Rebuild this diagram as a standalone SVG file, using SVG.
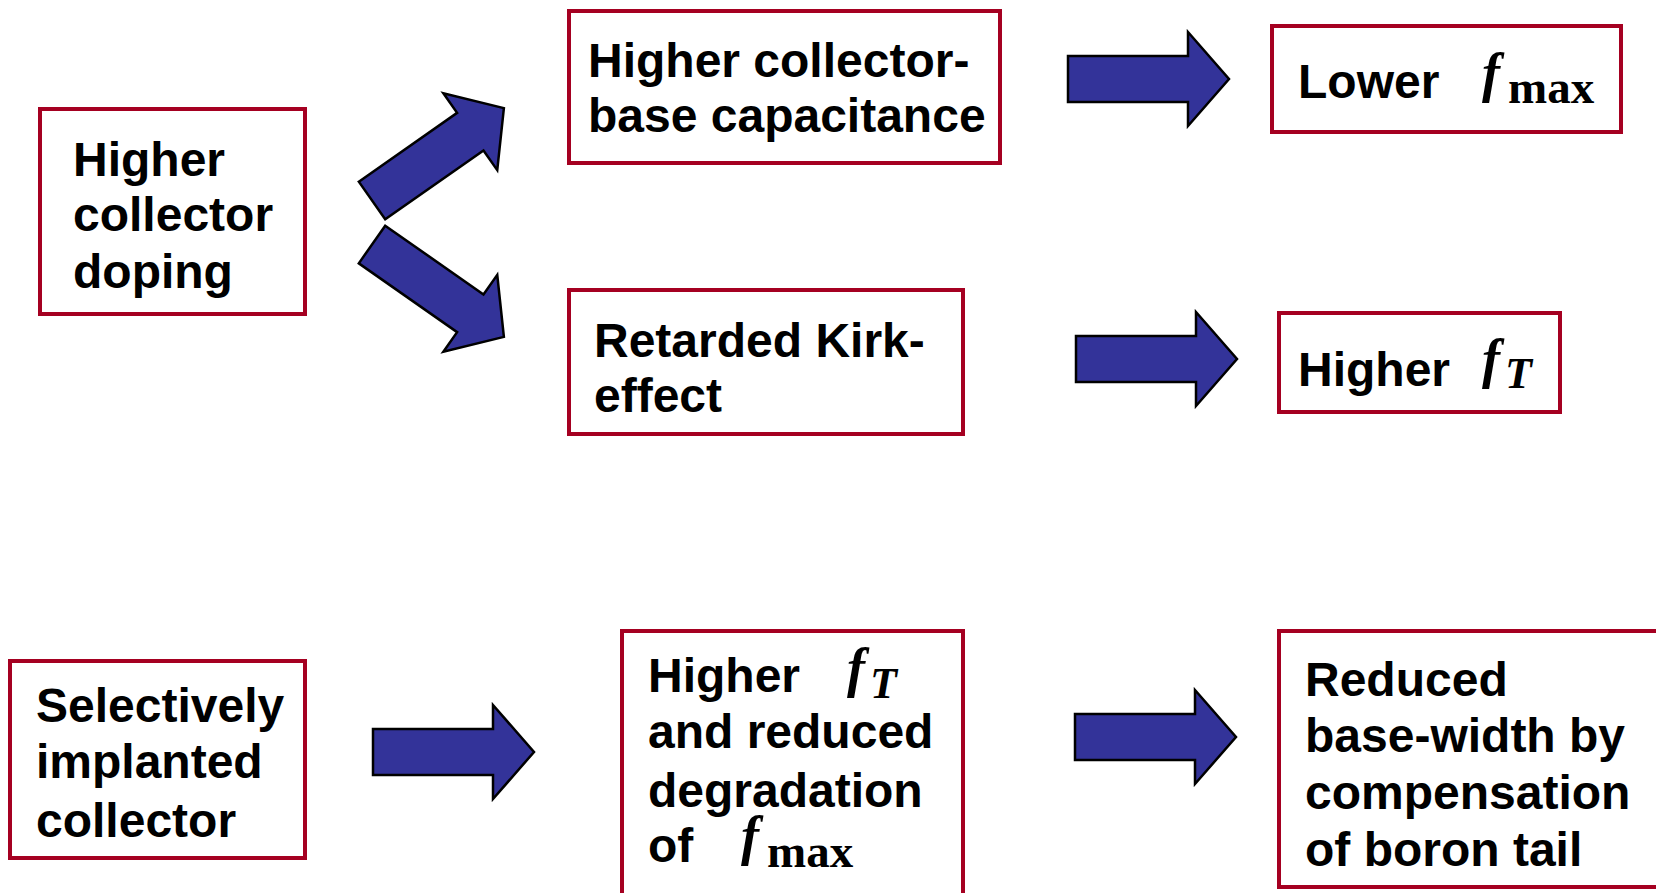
<svg xmlns="http://www.w3.org/2000/svg" xmlns:xlink="http://www.w3.org/1999/xlink" width="1656" height="893" viewBox="0 0 1656 893">
  <style>
    .box { fill: #ffffff; stroke: #A50021; stroke-width: 4; }
    .lbl { font-family: "Liberation Sans", Arial, sans-serif; font-weight: bold; font-size: 48px; fill: #000000; }
    .f { font-family: "Liberation Serif", "Times New Roman", serif; font-style: italic; font-weight: bold; font-size: 54px; fill: #000000; }
    .sub { font-family: "Liberation Serif", "Times New Roman", serif; font-weight: bold; font-size: 47px; fill: #000000; }
    .subi { font-family: "Liberation Serif", "Times New Roman", serif; font-style: italic; font-weight: bold; font-size: 44px; fill: #000000; }
    .arrow { fill: #333399; stroke: #000000; stroke-width: 2.5; stroke-linejoin: miter; }
  </style>
  <defs>
    <!-- block arrow, tail centred on the origin, pointing along +x -->
    <path id="blockArrow" d="M0,-23 H120 V-47 L161,0 L120,47 V23 H0 Z"/>
  </defs>
  <rect width="1656" height="893" fill="#ffffff"/>

  <g id="connectors">
    <use xlink:href="#blockArrow" class="arrow" transform="translate(372,200.5) rotate(-35)"/>
    <use xlink:href="#blockArrow" class="arrow" transform="translate(372,244.5) rotate(35)"/>
    <use xlink:href="#blockArrow" class="arrow" transform="translate(1068,79)"/>
    <use xlink:href="#blockArrow" class="arrow" transform="translate(1076,359)"/>
    <use xlink:href="#blockArrow" class="arrow" transform="translate(373,752)"/>
    <use xlink:href="#blockArrow" class="arrow" transform="translate(1075,737)"/>
  </g>

  <g id="collector-doping">
    <rect class="box" x="40" y="109" width="265" height="205"/>
    <text class="lbl" x="73" y="176">Higher</text>
    <text class="lbl" x="73" y="231">collector</text>
    <text class="lbl" x="73" y="288">doping</text>
  </g>

  <g id="cb-capacitance">
    <rect class="box" x="569" y="11" width="431" height="152"/>
    <text class="lbl" x="588" y="77">Higher collector-</text>
    <text class="lbl" x="588" y="132">base capacitance</text>
  </g>

  <g id="kirk-effect">
    <rect class="box" x="569" y="290" width="394" height="144"/>
    <text class="lbl" x="594" y="357">Retarded Kirk-</text>
    <text class="lbl" x="594" y="412">effect</text>
  </g>

  <g id="lower-fmax">
    <rect class="box" x="1272" y="26" width="349" height="106"/>
    <text class="lbl" x="1298" y="98">Lower</text>
    <text class="f" x="1482" y="91">f</text>
    <text class="sub" x="1508" y="103">max</text>
  </g>

  <g id="higher-ft">
    <rect class="box" x="1279" y="313" width="281" height="99"/>
    <text class="lbl" x="1298" y="386">Higher</text>
    <text class="f" x="1482" y="377">f</text>
    <text class="subi" x="1505" y="388">T</text>
  </g>

  <g id="ft-fmax-result">
    <rect class="box" x="622" y="631" width="341" height="280"/>
    <text class="lbl" x="648" y="692">Higher</text>
    <text class="f" x="847" y="686">f</text>
    <text class="subi" x="870" y="698">T</text>
    <text class="lbl" x="648" y="748">and reduced</text>
    <text class="lbl" x="648" y="807">degradation</text>
    <text class="lbl" x="648" y="862">of</text>
    <text class="f" x="741" y="854">f</text>
    <text class="sub" x="767" y="867">max</text>
  </g>

  <g id="selective-implant">
    <rect class="box" x="10" y="661" width="295" height="197"/>
    <text class="lbl" x="36" y="722">Selectively</text>
    <text class="lbl" x="36" y="778">implanted</text>
    <text class="lbl" x="36" y="837">collector</text>
  </g>

  <g id="base-width">
    <rect class="box" x="1279" y="631" width="400" height="256"/>
    <text class="lbl" x="1305" y="696">Reduced</text>
    <text class="lbl" x="1305" y="752">base-width by</text>
    <text class="lbl" x="1305" y="809">compensation</text>
    <text class="lbl" x="1305" y="866">of boron tail</text>
  </g>
</svg>
